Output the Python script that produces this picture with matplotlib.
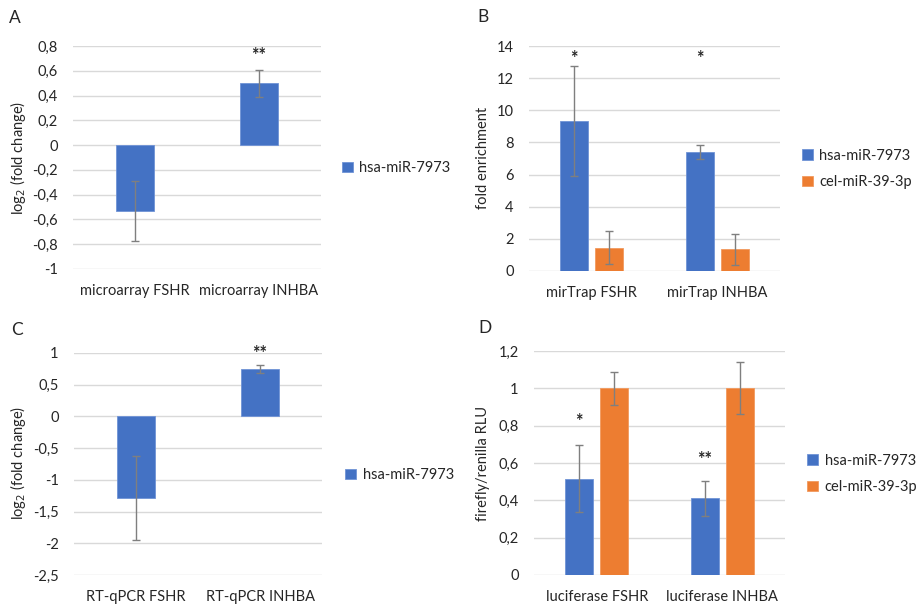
import numpy as np
import matplotlib
matplotlib.use("Agg")
import matplotlib.pyplot as plt

plt.rcParams["font.family"] = ["Lato", "DejaVu Sans"]

BLUE = "#4472C4"
ORANGE = "#ED7D31"
GRID = "#D9D9D9"
ERR = "#7F7F7F"
TEXT = "#262626"

# A: microarray
a_cats = ["microarray FSHR", "microarray INHBA"]
a_hsa = [-0.53, 0.50]
a_hsa_err = [0.24, 0.11]
a_stars = ["", "**"]
a_ticks = [0.8, 0.6, 0.4, 0.2, 0, -0.2, -0.4, -0.6, -0.8, -1]

# B: mirTrap
b_cats = ["mirTrap FSHR", "mirTrap INHBA"]
b_hsa = [9.32, 7.41]
b_hsa_err = [3.42, 0.42]
b_cel = [1.45, 1.35]
b_cel_err = [1.02, 0.98]
b_stars = ["*", "*"]
b_ticks = [0, 2, 4, 6, 8, 10, 12, 14]

# C: RT-qPCR
c_cats = ["RT-qPCR FSHR", "RT-qPCR INHBA"]
c_hsa = [-1.29, 0.75]
c_hsa_err = [0.66, 0.065]
c_stars = ["", "**"]
c_ticks = [1, 0.5, 0, -0.5, -1, -1.5, -2, -2.5]

# D: luciferase
d_cats = ["luciferase FSHR", "luciferase INHBA"]
d_hsa = [0.515, 0.41]
d_hsa_err = [0.18, 0.095]
d_cel = [1.0, 1.0]
d_cel_err = [0.09, 0.14]
d_stars = ["*", "**"]
d_ticks = [0, 0.2, 0.4, 0.6, 0.8, 1, 1.2]

W, H = 918, 607
FS = 10.5


def px_axes(fig, x0, y0, x1, y1):
    return fig.add_axes([x0 / W, 1 - y1 / H, (x1 - x0) / W, (y1 - y0) / H])


def fmt(v):
    return f"{v:g}".replace(".", ",")


def style(ax, ticks, cats):
    ax.set_ylim(min(ticks), max(ticks))
    ax.set_xlim(-0.5, 1.5)
    ax.set_yticks(ticks)
    ax.set_yticklabels([fmt(t) for t in ticks])
    ax.set_xticks([0, 1])
    ax.set_xticklabels(cats)
    ax.tick_params(axis="both", length=0, labelsize=FS, colors=TEXT)
    ax.tick_params(axis="y", pad=11)
    ax.tick_params(axis="x", pad=11)
    for s in ax.spines.values():
        s.set_visible(False)
    ax.grid(axis="y", color=GRID, linewidth=1)
    ax.set_axisbelow(True)


def stars(ax, xs, labels, ys):
    for x, lab, y in zip(xs, labels, ys):
        if lab:
            ax.text(x, y, lab, ha="center", va="center", fontsize=13,
                    color=TEXT, fontweight="bold")


def legend(ax, px, py):
    ax.legend(loc="center left", bbox_to_anchor=(px / W, 1 - py / H),
              bbox_transform=fig.transFigure, frameon=False, fontsize=FS,
              handlelength=0.75, handleheight=0.75, handletextpad=0.45,
              labelspacing=0.85, borderpad=0, borderaxespad=0, labelcolor=TEXT)


def ylabel(text, px, py):
    fig.text(px / W, 1 - py / H, text, rotation=90, ha="center", va="center",
             fontsize=FS, color=TEXT)


ekw = dict(ecolor=ERR, elinewidth=1, capsize=3, capthick=1)
x = np.arange(2)
fig = plt.figure(figsize=(W / 100, H / 100), dpi=100)

# panel A
ax = px_axes(fig, 73, 46, 321, 269)
style(ax, a_ticks, a_cats)
ax.bar(x, a_hsa, width=0.306, color=BLUE, edgecolor="#6f93d6", linewidth=0.6,
       yerr=a_hsa_err, error_kw=ekw, label="hsa-miR-7973", zorder=2)
stars(ax, x, a_stars, [0, 0.72])
ylabel("log$_2$ (fold change)", 18, 158)
legend(ax, 342, 168)

# panel B
off, bw = 0.14, 0.223
ax = px_axes(fig, 529, 46, 780, 271)
style(ax, b_ticks, b_cats)
ax.bar(x - off, b_hsa, width=bw, color=BLUE, edgecolor="#6f93d6", linewidth=0.6,
       yerr=b_hsa_err, error_kw=ekw, label="hsa-miR-7973", zorder=2)
ax.bar(x + off, b_cel, width=bw, color=ORANGE, edgecolor="#f29a5e", linewidth=0.6,
       yerr=b_cel_err, error_kw=ekw, label="cel-miR-39-3p", zorder=2)
stars(ax, x - off, b_stars, [13.2, 13.2])
ylabel("fold enrichment", 483, 158)
legend(ax, 802, 169)

# panel C
ax = px_axes(fig, 74, 353, 322, 575)
style(ax, c_ticks, c_cats)
ax.bar(x, c_hsa, width=0.306, color=BLUE, edgecolor="#6f93d6", linewidth=0.6,
       yerr=c_hsa_err, error_kw=ekw, label="hsa-miR-7973", zorder=2)
stars(ax, x, c_stars, [0, 1.0])
ylabel("log$_2$ (fold change)", 18, 463)
legend(ax, 345, 475)

# panel D
ax = px_axes(fig, 534, 351, 785, 575)
style(ax, d_ticks, d_cats)
ax.bar(x - off, d_hsa, width=bw, color=BLUE, edgecolor="#6f93d6", linewidth=0.6,
       yerr=d_hsa_err, error_kw=ekw, label="hsa-miR-7973", zorder=2)
ax.bar(x + off, d_cel, width=bw, color=ORANGE, edgecolor="#f29a5e", linewidth=0.6,
       yerr=d_cel_err, error_kw=ekw, label="cel-miR-39-3p", zorder=2)
stars(ax, x - off, d_stars, [0.82, 0.62])
ylabel("firefly/renilla RLU", 483, 463)
legend(ax, 807, 474)

# panel letters
for lab, px, py in [("A", 15, 18), ("B", 483, 17), ("C", 17, 330), ("D", 485, 328)]:
    fig.text(px / W, 1 - py / H, lab, ha="center", va="center", fontsize=12.5,
             color=TEXT)

fig.savefig("out.png", dpi=100, facecolor="white")
